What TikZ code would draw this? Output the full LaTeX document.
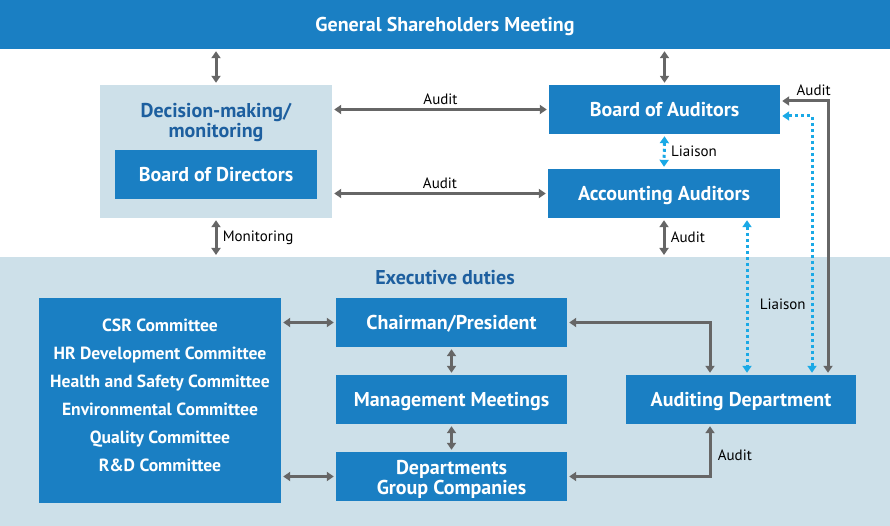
\documentclass[tikz,border=0pt]{standalone}
\usepackage{fontspec}
\setmainfont{PT Sans}
\usetikzlibrary{arrows.meta}
\definecolor{boxblue}{HTML}{1A7FC3}
\definecolor{paleblue}{HTML}{CDE0E9}
\definecolor{headblue}{HTML}{1D5F9F}
\definecolor{linegray}{HTML}{666666}
\definecolor{liaisoncyan}{HTML}{1AA9E6}
\newcommand{\boxfont}{\bfseries\fontsize{20}{20}\selectfont}
\newcommand{\comfont}{\bfseries\fontsize{17.6}{28}\selectfont}
\newcommand{\labfont}{\fontsize{15}{16}\selectfont}

\begin{document}
\begin{tikzpicture}[x=1pt,y=-1pt]
\useasboundingbox (0,0) rectangle (890,526);
\coordinate (ET) at (0,257);
\fill[paleblue] (ET) rectangle (890,526);

\begin{scope}[every node/.style={rectangle,fill=boxblue,text=white,font=\boxfont,
              inner sep=0pt,align=center,minimum width=231pt,minimum height=49pt},
              oneline/.style={text height=14pt,text depth=0pt}]
    \node (GSM)[oneline,minimum width=890pt] at (445,24.5) {General Shareholders Meeting};
    \node (DM)[fill=paleblue,minimum width=232pt,minimum height=133pt] at (216,151.5) {};
    \node (DMlbl)[fill=none,text=headblue] at (216,122.5) {Decision-making/\\monitoring};
    \node (BoD)[oneline,minimum width=202pt] at (216,174.5) {Board of Directors};
    \node (BoA)[oneline] at (664.5,109.5) {Board of Auditors};
    \node (AA)[oneline,minimum width=232pt] at (664,193.5) {Accounting Auditors};
    \node (EXlbl)[oneline,fill=none,text=headblue,minimum height=0pt] at (445,277) {Executive duties};
    \node (COM)[minimum width=242pt,minimum height=205pt] at (160,400.5) {};
    \node (COMlbl)[fill=none,font=\comfont] at (160,395)
        {CSR Committee\\HR Development Committee\\Health and Safety Committee\\Environmental Committee\\Quality Committee\\R\&D Committee};
    \node (CP)[oneline] at (451.5,322.5) {Chairman/President};
    \node (MM)[oneline] at (451.5,399.5) {Management Meetings};
    \node (DG) at (451.5,476.5) {};
    \node (DGlbl)[fill=none] at (451.5,479) {Departments\\Group Companies};
    \node (AD)[oneline,minimum width=230pt] at (741,399.5) {Auditing Department};
\end{scope}

\begin{scope}[every node/.style={font=\labfont,text=black},
              every edge/.style={draw=linegray,line width=3pt,
                  {Triangle[width=9pt,length=7pt]}-{Triangle[width=9pt,length=7pt]},
                  shorten <=2pt,shorten >=2pt},
              elbow/.style={to path={-| (\tikztotarget) \tikztonodes}},
              liaison/.style={draw=liaisoncyan,dash pattern=on 3pt off 3pt}]
    \path (DM.north |- GSM.south) edge (DM.north);
    \path (BoA.north |- GSM.south) edge (BoA.north);
    \path (DM.east |- BoA.west) edge node[above] {Audit} (BoA.west);
    \path (DM.east |- AA.west) edge node[above] {Audit} (AA.west);
    \path (BoA.south) edge[liaison] node[right=2pt] {Liaison} (AA.north);
    \path (AA.south) edge node[right=2pt] {Audit} (AA.south |- ET);
    \path (DM.south) edge node[right=2pt] {Monitoring} (DM.south |- ET);
    \path (COM.east |- CP.west) edge (CP.west);
    \path (COM.east |- DG.west) edge (DG.west);
    \path (CP.south) edge (MM.north);
    \path (MM.south) edge (DG.north);
    \path (CP.east) edge[elbow] ([xshift=-31pt]AD.north);
    \path (DG.east) edge[elbow] node[pos=0.7,right=3pt] {Audit} ([xshift=-31pt]AD.south);
    \path ([xshift=83pt]AA.south) edge[liaison] node[pos=0.55,right=8pt] {Liaison} ([xshift=83pt]AA.south |- AD.north);
    \path ([yshift=-6.5pt]BoA.east) edge[liaison,elbow] ([xshift=71pt]AD.north);
    \path ([yshift=8.5pt]BoA.east) edge[elbow] node[pos=0.35,above] {Audit} ([xshift=87pt]AD.north);
\end{scope}
\end{tikzpicture}
\end{document}
